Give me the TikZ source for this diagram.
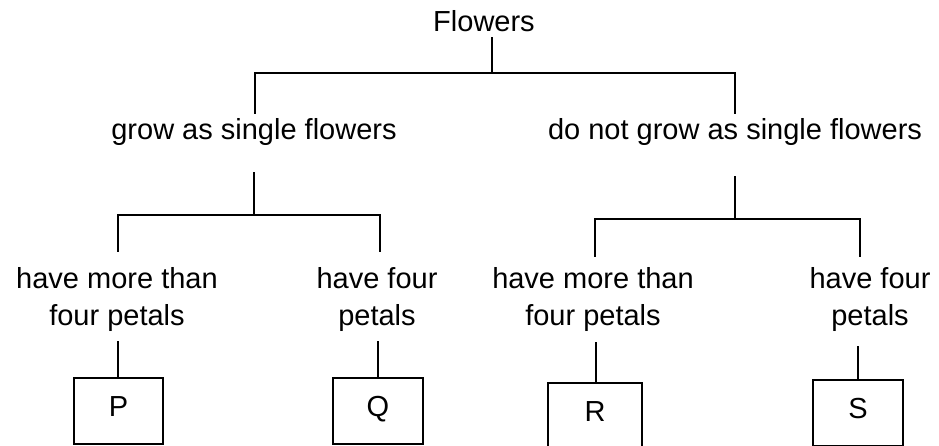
\documentclass[tikz,border=0pt]{standalone}
\usepackage{fontspec}
\setmainfont{Liberation Sans}
\newcommand\treefont{\fontsize{29}{37}\selectfont}
\begin{document}
\begin{tikzpicture}[x=1pt,y=-1pt,
  tree/.style={line width=2pt, line cap=rect},
  lbl/.style={font=\treefont, anchor=base, inner sep=0pt},
  lbltwo/.style={font=\treefont, anchor=north, inner sep=0pt, align=center},
  leaf/.style={draw, line width=2pt, inner sep=0pt, font=\treefont,
    minimum height=66pt, text height=21pt, text depth=10pt}]
\fill[white] (0,0) rectangle (939,446);
\useasboundingbox (0,0) rectangle (939,446);
\clip (0,0) rectangle (939,446);

% root
\node[lbl] (flowers) at (484,32) {Flowers};
\coordinate (f0) at (492,38);
\coordinate (j0) at (492,73);
\coordinate (s0) at (255,113);
\coordinate (n0) at (735,113);
\draw[tree] (f0) -- (j0);
\draw[tree] (s0) |- (j0) -| (n0);

% first split
\node[lbl] (single) at (254,140) {grow as single flowers};
\node[lbl] (notsingle) at (735,140) {do not grow as single flowers};

\coordinate (s1) at (254,173);
\coordinate (js) at (254,215);
\coordinate (ps) at (118,251);
\coordinate (qs) at (380,251);
\draw[tree] (s1) -- (js);
\draw[tree] (ps) |- (js) -| (qs);

\coordinate (n1) at (735,177);
\coordinate (jn) at (735,219);
\coordinate (rn) at (595,256);
\coordinate (sn) at (860,256);
\draw[tree] (n1) -- (jn);
\draw[tree] (rn) |- (jn) -| (sn);

% second split
\node[lbltwo] (pl) at (117,267) {have more than\\four petals};
\node[lbltwo] (ql) at (377,267) {have four\\petals};
\node[lbltwo] (rl) at (593,267) {have more than\\four petals};
\node[lbltwo] (sl) at (870,267) {have four\\petals};

% groups
\node[leaf, minimum width=89pt] (P) at (118.5,411) {P};
\node[leaf, minimum width=90pt] (Q) at (378,411) {Q};
\node[leaf, minimum width=94pt] (R) at (595,416) {R};
\node[leaf, minimum width=90pt] (S) at (858,413) {S};

\coordinate (p3) at (118,342);
\coordinate (q3) at (378,342);
\coordinate (r3) at (596,343);
\coordinate (t3) at (858,347);
\draw[tree] (p3) -- (p3 |- P.north);
\draw[tree] (q3) -- (q3 |- Q.north);
\draw[tree] (r3) -- (r3 |- R.north);
\draw[tree] (t3) -- (t3 |- S.north);
\end{tikzpicture}
\end{document}
